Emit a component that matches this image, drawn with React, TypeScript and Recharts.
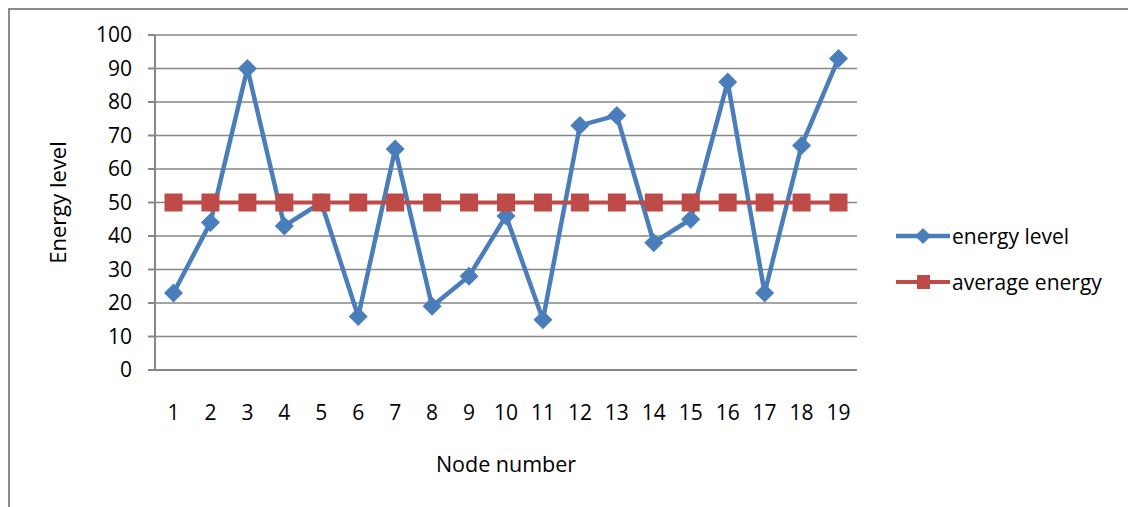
import { LineChart, Line, XAxis, YAxis, CartesianGrid } from "recharts";

const nodes = ["1", "2", "3", "4", "5", "6", "7", "8", "9", "10", "11", "12", "13", "14", "15", "16", "17", "18", "19"];
const energyLevel = [23, 44, 90, 43, 50, 16, 66, 19, 28, 46, 15, 73, 76, 38, 45, 86, 23, 67, 93];
const averageEnergy = [50, 50, 50, 50, 50, 50, 50, 50, 50, 50, 50, 50, 50, 50, 50, 50, 50, 50, 50];
const yTicks = [0, 10, 20, 30, 40, 50, 60, 70, 80, 90, 100];

const data = nodes.map((node, i) => ({
  node,
  energy: energyLevel[i],
  average: averageEnergy[i],
}));

const BLUE = "#4A7EBB";
const RED = "#BE4B48";
const GRID = "#868686";
const FONT = "'Open Sans', sans-serif";

const Diamond = (props: any) => {
  const { cx, cy } = props;
  if (cx == null || cy == null) return null;
  const r = 9.5;
  return (
    <polygon
      points={`${cx},${cy - r} ${cx + r},${cy} ${cx},${cy + r} ${cx - r},${cy}`}
      fill={BLUE}
    />
  );
};

const Square = (props: any) => {
  const { cx, cy } = props;
  if (cx == null || cy == null) return null;
  const h = 9;
  return <rect x={cx - h} y={cy - h} width={h * 2} height={h * 2} fill={RED} />;
};

// legend is plain html next to the chart, so it takes no room from the plot
const LegendBox = () => (
  <div
    style={{
      position: "absolute",
      left: 888,
      top: 205,
      fontFamily: FONT,
      fontSize: 21,
      color: "#000",
    }}
  >
    <div style={{ display: "flex", alignItems: "center", height: 46 }}>
      <svg width={56} height={20}>
        <line x1={0} y1={10} x2={54} y2={10} stroke={BLUE} strokeWidth={4.5} />
        <polygon points="27,2 35,10 27,18 19,10" fill={BLUE} />
      </svg>
      <span>energy level</span>
    </div>
    <div style={{ display: "flex", alignItems: "center", height: 46 }}>
      <svg width={56} height={20}>
        <line x1={0} y1={10} x2={54} y2={10} stroke={RED} strokeWidth={4} />
        <rect x={21} y={3} width={13} height={14} fill={RED} />
      </svg>
      <span>average energy</span>
    </div>
  </div>
);

export default function App() {
  return (
    <div style={{ position: "relative", width: 1128, height: 499 }}>
      <LineChart
        width={1128}
        height={499}
        data={data}
        margin={{ top: 27, right: 279, left: 0, bottom: 37 }}
        style={{ fontFamily: FONT }}
      >
        <CartesianGrid horizontal vertical={false} stroke={GRID} strokeWidth={1.5} />
        <XAxis
          dataKey="node"
          height={100}
          padding={{ left: 18.5, right: 18.5 }}
          tickLine={false}
          tickSize={6}
          tickMargin={29}
          axisLine={{ stroke: GRID, strokeWidth: 2 }}
          tick={{ fontSize: 21, fill: "#000" }}
          interval={0}
          label={{
            value: "Node number",
            position: "insideBottom",
            offset: -2,
            style: { fontSize: 21.5, fill: "#000" },
          }}
        />
        <YAxis
          width={147}
          domain={[0, 100]}
          ticks={yTicks}
          interval={0}
          tickSize={7}
          tickMargin={16}
          tickLine={{ stroke: GRID, strokeWidth: 2 }}
          axisLine={{ stroke: GRID, strokeWidth: 2 }}
          tick={{ fontSize: 21, fill: "#000" }}
          label={{
            value: "Energy level",
            angle: -90,
            position: "insideLeft",
            offset: 50,
            style: { textAnchor: "middle", fontSize: 22, fill: "#000" },
          }}
        />
        <Line
          dataKey="energy"
          name="energy level"
          stroke={BLUE}
          strokeWidth={4.5}
          dot={<Diamond />}
          activeDot={false}
          isAnimationActive={false}
        />
        <Line
          dataKey="average"
          name="average energy"
          stroke={RED}
          strokeWidth={4}
          dot={<Square />}
          activeDot={false}
          isAnimationActive={false}
        />
      </LineChart>
      <LegendBox />
      {/* outer frame: only its top and left edges are in view */}
      <div style={{ position: "absolute", left: 0, top: 0, width: 1128, height: 2, background: "#8c8c8c" }} />
      <div style={{ position: "absolute", left: 0, top: 0, width: 2, height: 499, background: "#8c8c8c" }} />
    </div>
  );
}
